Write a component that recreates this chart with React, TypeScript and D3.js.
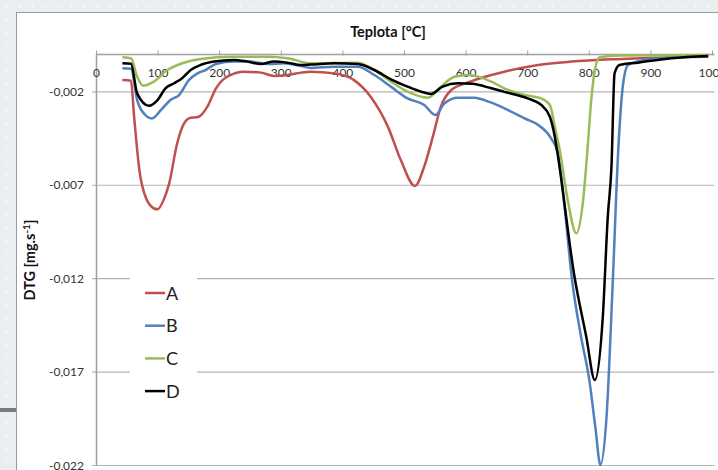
import * as d3 from "d3";

// teplota [°C] a DTG [mg/s]
const tempA = [42, 56, 61, 71, 88, 99, 110, 118, 131, 142, 150, 166, 180, 194, 212, 240, 267, 288, 310, 332, 348, 386, 418, 445, 473, 494, 517, 532, 546, 559, 576, 603, 641, 662, 717, 771, 852, 933, 993];
const dtgA = [-0.00137, -0.0014, -0.0033, -0.0065, -0.0081, -0.00829, -0.0077, -0.0069, -0.00475, -0.0037, -0.00342, -0.00333, -0.00279, -0.00181, -0.00119, -0.00092, -0.00097, -0.00115, -0.0011, -0.00097, -0.00092, -0.00101, -0.00137, -0.00226, -0.00386, -0.00565, -0.00704, -0.006, -0.0044, -0.00279, -0.0019, -0.0015, -0.0011, -0.00092, -0.00056, -0.00038, -0.00024, -0.00015, -0.00012];

const tempB = [42, 56, 66, 78, 90, 107, 120, 134, 150, 164, 177, 194, 223, 250, 278, 305, 332, 348, 386, 424, 451, 478, 505, 532, 550, 565, 587, 613, 641, 662, 695, 717, 738, 749, 760, 772, 786, 800, 810, 818, 828, 838, 847, 855, 863, 890, 933, 993];
const dtgB = [-0.00074, -0.00076, -0.00244, -0.0032, -0.00342, -0.00288, -0.00244, -0.00217, -0.00137, -0.00101, -0.00083, -0.00051, -0.00038, -0.00038, -0.00051, -0.00047, -0.00062, -0.00072, -0.00065, -0.00065, -0.0011, -0.00172, -0.00235, -0.0027, -0.00324, -0.00261, -0.00231, -0.00231, -0.00258, -0.00288, -0.00342, -0.00377, -0.00449, -0.00529, -0.0082, -0.01207, -0.015, -0.01742, -0.02, -0.02197, -0.01939, -0.01225, -0.00511, -0.00154, -0.00056, -0.00029, -0.00018, -0.0001];

const tempC = [42, 56, 66, 76, 93, 115, 142, 169, 223, 278, 310, 348, 424, 451, 478, 505, 538, 559, 581, 603, 641, 662, 695, 722, 736, 744, 752, 765, 779, 790, 797, 803, 809, 817, 850, 993];
const dtgC = [-0.00015, -0.0002, -0.00119, -0.00167, -0.00145, -0.00083, -0.00044, -0.00024, -0.00012, -0.00012, -0.0002, -0.00047, -0.00044, -0.00083, -0.00145, -0.00199, -0.00231, -0.00172, -0.00119, -0.0011, -0.00145, -0.00181, -0.00217, -0.00235, -0.0027, -0.00386, -0.00511, -0.00779, -0.00957, -0.00779, -0.00511, -0.0025, -0.00083, -0.00015, -0.00005, -0.00003];

const tempD = [42, 56, 66, 85, 99, 112, 126, 139, 153, 169, 191, 223, 245, 267, 288, 310, 332, 348, 386, 424, 451, 478, 505, 527, 543, 562, 587, 610, 641, 662, 700, 722, 736, 744, 748, 776, 795, 809, 822, 830, 836, 841, 849, 879, 933, 993];
const dtgD = [-0.00047, -0.0005, -0.00208, -0.00274, -0.00244, -0.00181, -0.00154, -0.00127, -0.00083, -0.00056, -0.00038, -0.00029, -0.00038, -0.00051, -0.00038, -0.00044, -0.00056, -0.00054, -0.00047, -0.00051, -0.00083, -0.00133, -0.00172, -0.00199, -0.00211, -0.00172, -0.00154, -0.00157, -0.00181, -0.002, -0.00235, -0.0027, -0.00333, -0.0044, -0.0052, -0.0119, -0.0151, -0.01742, -0.014, -0.00868, -0.006, -0.00101, -0.00056, -0.00044, -0.0002, -0.00008];

const seriesNames = ["A", "B", "C", "D"];
const seriesColors = ["#c0504d", "#4f81bd", "#9bbb59", "#000000"];
const xTicks = [0, 100, 200, 300, 400, 500, 600, 700, 800, 900, 1000];
const yTicks = [-0.002, -0.007, -0.012, -0.017, -0.022];

const W = 718;
const H = 470;
const font = "Lato, 'Open Sans', sans-serif";

export default function App() {
  const x = d3.scaleLinear().domain([0, 1000]).range([96.5, 712.5]);
  const y = d3.scaleLinear().domain([-0.022, 0]).range([465.5, 54.5]);

  const temps = [tempA, tempB, tempC, tempD];
  const dtgs = [dtgA, dtgB, dtgC, dtgD];

  const line = d3
    .line<[number, number]>()
    .x((d) => x(d[0]))
    .y((d) => y(d[1]))
    .curve(d3.curveMonotoneX);

  const fmtY = (v: number) => v.toFixed(3).replace(".", ",");

  return (
    <svg width={W} height={H} style={{ position: "absolute", left: 0, top: 0 }}>
      <defs>
        <pattern id="dots" width="13" height="13" patternUnits="userSpaceOnUse">
          <rect width="13" height="13" fill="#e9eef1" />
          <circle cx="6.5" cy="6.5" r="1.2" fill="#f7f9fa" />
        </pattern>
      </defs>
      {/* pozadí */}
      <rect x={0} y={0} width={W} height={H} fill="url(#dots)" />
      <rect x={0} y={408} width={16} height={4} fill="#7a7a7a" />
      <rect x={16.5} y={12.5} width={W} height={H} fill="#fff" stroke="#9a9a9a" />

      {/* mřížka */}
      {yTicks.map((t) => (
        <g key={t}>
          <line x1={92} x2={x(1000) + 2} y1={y(t)} y2={y(t)} stroke="#b4b4b4" strokeWidth={1.2} />
          <text x={84} y={y(t) + 4} textAnchor="end" fontFamily={font} fontSize={12} fill="#333">
            {fmtY(t)}
          </text>
        </g>
      ))}

      {/* osy */}
      <line x1={x(0)} x2={x(0)} y1={y(0)} y2={y(-0.022)} stroke="#a0a0a0" strokeWidth={1.5} />
      <line x1={x(0)} x2={x(1000) + 2} y1={y(0)} y2={y(0)} stroke="#a0a0a0" strokeWidth={1.5} />
      {xTicks.map((t) => (
        <g key={t}>
          <line x1={x(t)} x2={x(t)} y1={y(0) - 4} y2={y(0) + 1} stroke="#a0a0a0" />
          <text x={x(t)} y={77} textAnchor="middle" fontFamily={font} fontSize={12} fill="#333">
            {t}
          </text>
        </g>
      ))}

      {/* popisky os */}
      <text x={388} y={37} textAnchor="middle" fontFamily={font} fontSize={14.5} fontWeight="bold" fill="#111">
        Teplota [°C]
      </text>
      <text
        transform="translate(35,260) rotate(-90)"
        textAnchor="middle"
        fontFamily={font}
        fontSize={14.5}
        fontWeight="bold"
        fill="#111"
      >
        DTG [mg.s<tspan dy={-5} fontSize={10}>-1</tspan>
        <tspan dy={5}>]</tspan>
      </text>

      {/* křivky */}
      {seriesNames.map((name, i) => (
        <path
          key={name}
          d={line(temps[i].map((t, j) => [t, dtgs[i][j]] as [number, number])) || ""}
          fill="none"
          stroke={seriesColors[i]}
          strokeWidth={2.5}
          strokeLinejoin="round"
        />
      ))}

      {/* legenda */}
      <rect x={130} y={275} width={67} height={130} fill="#fff" />
      {seriesNames.map((name, i) => (
        <g key={name} transform={`translate(145, ${293 + i * 32.7})`}>
          <line x1={0} x2={20} y1={0} y2={0} stroke={seriesColors[i]} strokeWidth={2.5} />
          <text x={21} y={6.5} fontFamily={font} fontSize={18} fill="#222">
            {name}
          </text>
        </g>
      ))}
    </svg>
  );
}
